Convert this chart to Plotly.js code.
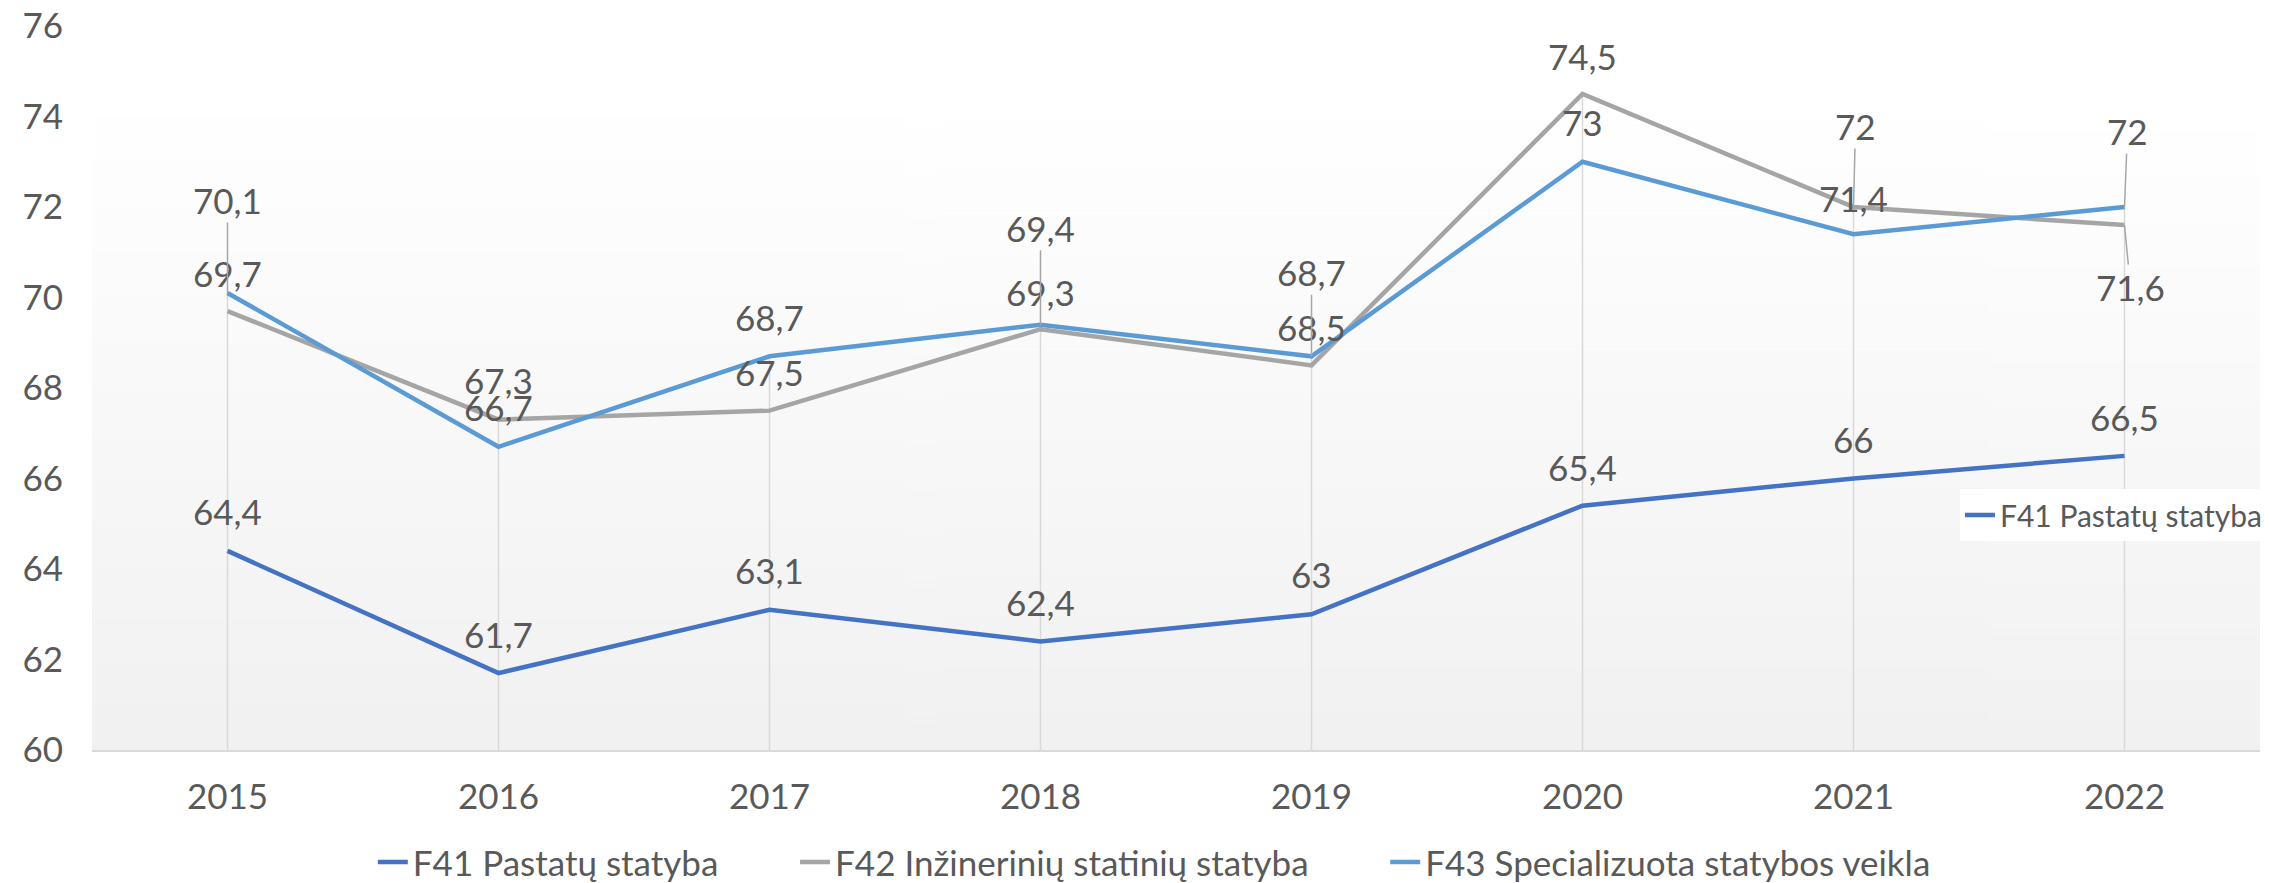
<!DOCTYPE html>
<html>
<head>
<meta charset="utf-8">
<script src="https://cdn.plot.ly/plotly-3.0.1.min.js"></script>
<style>
  html, body { margin: 0; padding: 0; background: #ffffff; }
  #chart { width: 2269px; height: 883px; }
</style>
</head>
<body>
<div id="chart"></div>
<script>
// ---- Data ----
const years = ['2015', '2016', '2017', '2018', '2019', '2020', '2021', '2022'];
const f41 = [64.4, 61.7, 63.1, 62.4, 63.0, 65.4, 66.0, 66.5];
const f42 = [69.7, 67.3, 67.5, 69.3, 68.5, 74.5, 72.0, 71.6];
const f43 = [70.1, 66.7, 68.7, 69.4, 68.7, 73.0, 71.4, 72.0];
const names = ['F41 Pastatų statyba', 'F42 Inžinerinių statinių statyba', 'F43 Specializuota statybos veikla'];
const yTicks = [60, 62, 64, 66, 68, 70, 72, 74, 76];

// ---- Styles (label placement, colours) ----
const colors = ['#4472C4', '#A5A5A5', '#5B9BD5'];
const labelDY = [
  [-40, -39, -40, -39, -40, -39, -40, -39],
  [-38, -40, -39, -37, -38, -38, -81, 62],
  [-93, -40, -39, -97, -84, -40, -36, -76]
];
const labelDX = [
  [0, 0, 0, 0, 0, 0, 0, 0],
  [0, 0, 0, 0, 0, 0, 2, 6],
  [0, 0, 0, 0, 0, 0, 0, 3]
];
const leader = [
  [0, 0, 0, 0, 0, 0, 0, 0],
  [0, 0, 0, 0, 0, 0, 1, 1],
  [1, 0, 0, 1, 1, 0, 0, 1]
];

const FONT = 'Lato, "Open Sans", sans-serif';
const FS = 35;
const TXT = '#595959';
const GAP = '\u00a0'.repeat(8);
const series = [f41, f42, f43];

const traces = series.map((vals, k) => ({
  type: 'scatter', mode: 'lines', x: years, y: vals,
  name: names[k] + (k < series.length - 1 ? GAP : ''),
  line: { color: colors[k], width: 4.5 }, hoverinfo: 'x+y', legend: 'legend'
}));
// duplicated legend entry shown inside the plot
traces.push({
  type: 'scatter', mode: 'lines', x: [years[0]], y: [null], name: names[0],
  line: { color: colors[0], width: 4.5 }, legend: 'legend2', hoverinfo: 'skip', showlegend: true
});

const fmt = v => String(v).replace('.', ',');
const annotations = [];
series.forEach((vals, k) => {
  vals.forEach((v, i) => {
    annotations.push({
      x: i, y: v, xref: 'x', yref: 'y',
      text: fmt(v), showarrow: true, arrowhead: 0, arrowwidth: 1.5, standoff: 0,
      arrowcolor: leader[k][i] ? '#a6a6a6' : 'rgba(0,0,0,0)',
      ax: labelDX[k][i], ay: labelDY[k][i],
      font: { family: FONT, size: FS, color: TXT }
    });
  });
});

// drop lines from the highest point of each category down to the axis
const shapes = years.map((yr, i) => ({
  type: 'line', xref: 'x', yref: 'y', layer: 'below',
  x0: i, x1: i, y0: yTicks[0], y1: Math.max(f41[i], f42[i], f43[i]),
  line: { color: '#d9d9d9', width: 1.5 }
}));

// gradient plot background
const cv = document.createElement('canvas');
cv.width = 4; cv.height = 512;
const ctx = cv.getContext('2d');
const g = ctx.createLinearGradient(0, 0, 0, 512);
g.addColorStop(0, '#ffffff');
g.addColorStop(0.12, '#ffffff');
g.addColorStop(1, '#f1f1f1');
ctx.fillStyle = g; ctx.fillRect(0, 0, 4, 512);

const layout = {
  width: 2269, height: 883,
  margin: { l: 92, r: 9, t: 26, b: 133, autoexpand: false },
  paper_bgcolor: '#ffffff', plot_bgcolor: 'rgba(0,0,0,0)',
  font: { family: FONT, size: FS, color: TXT },
  showlegend: true,
  xaxis: {
    type: 'category', categoryorder: 'array', categoryarray: years,
    range: [-0.5, years.length - 0.5], autorange: false,
    showgrid: false, zeroline: false, automargin: false,
    showline: true, linecolor: '#d9d9d9', linewidth: 2,
    ticks: '', ticklabelstandoff: 15,
    tickfont: { family: FONT, size: FS, color: TXT }
  },
  yaxis: {
    range: [yTicks[0], yTicks[yTicks.length - 1]], autorange: false,
    tickvals: yTicks, ticktext: yTicks.map(String), automargin: false,
    showgrid: false, zeroline: false, showline: false, ticks: '',
    ticklabelstandoff: 28,
    tickfont: { family: FONT, size: FS, color: TXT }
  },
  legend: {
    orientation: 'h', x: 0.49, xanchor: 'center', y: -0.155, yanchor: 'middle',
    font: { family: FONT, size: FS, color: TXT }, bgcolor: 'rgba(0,0,0,0)',
    itemclick: false, itemdoubleclick: false
  },
  legend2: {
    orientation: 'v', x: 0.8616, xanchor: 'left', y: 0.3246, yanchor: 'middle',
    font: { family: FONT, size: 30, color: TXT }, bgcolor: '#ffffff',
    itemclick: false, itemdoubleclick: false
  },
  annotations: annotations,
  shapes: shapes,
  images: [{
    source: cv.toDataURL('image/png'), xref: 'paper', yref: 'paper',
    x: 0, y: 1, sizex: 1, sizey: 1, xanchor: 'left', yanchor: 'top',
    sizing: 'stretch', layer: 'below'
  }]
};

Plotly.newPlot('chart', traces, layout, { displayModeBar: false, staticPlot: true });
</script>
</body>
</html>
